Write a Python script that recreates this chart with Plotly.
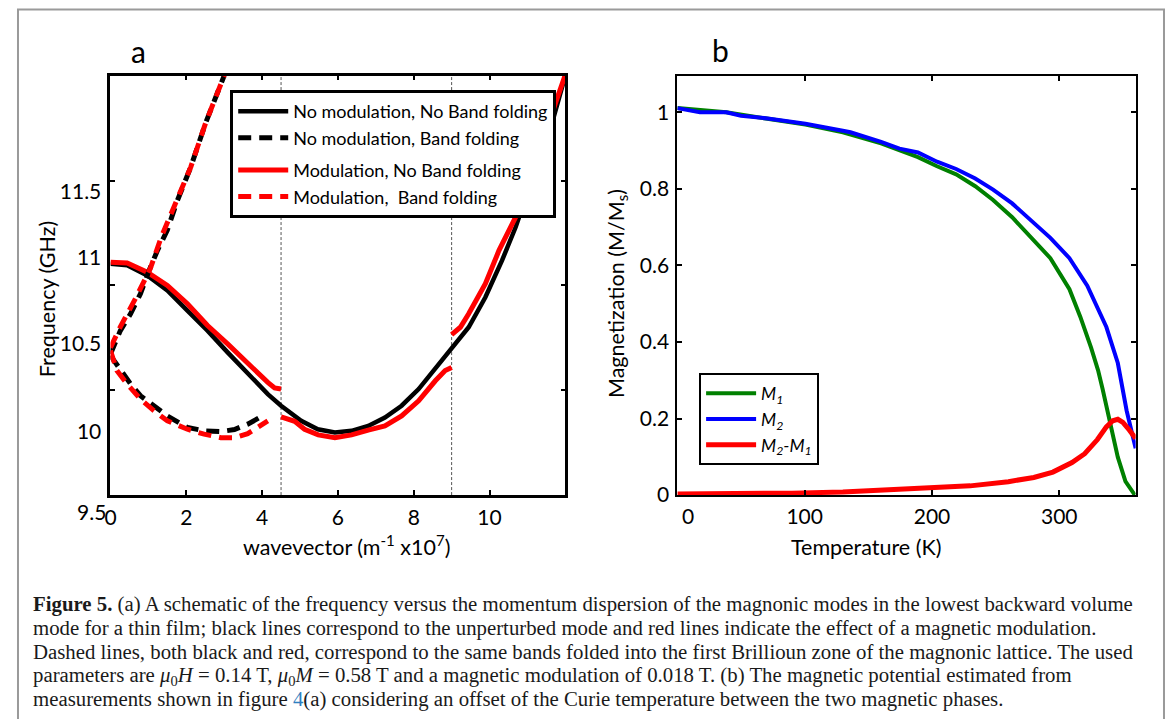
import plotly.graph_objects as go

# ---------------- Panel a: dispersion (wavevector in 1e7 m^-1, frequency in GHz) ----------------
k_nomod = [0, 0.44, 0.97, 1.50, 2.03, 2.56, 3.09, 3.62, 4.15, 4.50, 5.03, 5.47, 5.92, 6.36, 6.80,
           7.24, 7.68, 8.13, 8.57, 9.01, 9.45, 9.89, 10.33, 10.69, 11.3, 11.7, 12.0]
f_nomod = [10.958, 10.949, 10.891, 10.806, 10.691, 10.577, 10.453, 10.330, 10.215, 10.149, 10.063,
           10.015, 9.996, 10.006, 10.034, 10.082, 10.149, 10.244, 10.358, 10.474, 10.596, 10.767,
           10.977, 11.167, 11.55, 11.80, 12.03]

k_mod_1 = [0, 0.44, 0.97, 1.50, 2.03, 2.56, 3.09, 3.62, 4.15, 4.33, 4.50]
f_mod_1 = [10.967, 10.962, 10.910, 10.834, 10.730, 10.606, 10.501, 10.387, 10.282, 10.250, 10.244]
k_mod_2 = [4.50, 4.86, 5.12, 5.48, 5.92, 6.36, 6.80, 7.24, 7.68, 8.13, 8.57, 8.83, 9.0]
f_mod_2 = [10.086, 10.060, 10.015, 9.983, 9.967, 9.983, 10.010, 10.034, 10.091, 10.177, 10.291,
           10.349, 10.367]
k_mod_3 = [9.0, 9.23, 9.45, 9.89, 10.25, 10.51, 10.78, 11.3, 11.7, 11.92, 12.0]
f_mod_3 = [10.554, 10.596, 10.673, 10.844, 11.034, 11.149, 11.263, 11.60, 11.86, 11.987, 12.035]

k_nomod_fold_lo = [0, 0.26, 0.53, 0.79, 1.15, 1.50, 2.03, 2.47, 2.91, 3.27, 3.62, 4.06]
f_nomod_fold_lo = [10.434, 10.349, 10.273, 10.206, 10.149, 10.091, 10.025, 10.006, 10.002, 10.013,
                   10.044, 10.097]
k_nomod_fold_up = [0, 0.26, 0.53, 0.79, 1.02, 1.24, 1.50, 1.75, 2.12, 2.51, 3.0]
f_nomod_fold_up = [10.444, 10.577, 10.673, 10.787, 10.92, 11.034, 11.15, 11.31, 11.51, 11.76, 12.03]

k_mod_fold_lo = [0, 0.17, 0.44, 0.79, 1.15, 1.50, 2.03, 2.47, 2.91, 3.27, 3.62, 4.06, 4.15]
f_mod_fold_lo = [10.463, 10.349, 10.273, 10.187, 10.12, 10.063, 10.015, 9.987, 9.967, 9.967, 9.990,
                 10.044, 10.063]
k_mod_fold_up = [0, 0.27, 0.66, 1.05, 1.34, 1.73, 2.12, 2.51, 3.0]
f_mod_fold_up = [10.48, 10.603, 10.76, 10.93, 11.11, 11.31, 11.51, 11.76, 12.03]

zone_edges = [4.5, 9.0]
a_xticks = [0, 2, 4, 6, 8, 10]
a_ytick_marks = [10.237, 10.834, 11.431]
a_ylabel_pos = [10.0, 10.503, 10.994, 11.366]
a_ylabel_text = ["10", "10.5", "11", "11.5"]

# ---------------- Panel b: magnetization vs temperature ----------------
T_M2 = [0, 17.7, 38.4, 50, 71, 100.6, 130, 136, 160, 174.5, 189, 204, 219, 234, 248, 263, 278,
        293, 308, 322, 337, 346, 352.9, 360]
M2 = [1.011, 1.0, 1.0, 0.991, 0.984, 0.97, 0.952, 0.948, 0.923, 0.905, 0.895, 0.871, 0.852, 0.827,
      0.798, 0.762, 0.717, 0.672, 0.619, 0.547, 0.439, 0.345, 0.221, 0.122]
T_M1 = [0, 38.4, 100.6, 130, 160, 174.5, 189, 204, 219, 234, 248, 263, 278, 293, 308, 316.5, 325,
        330.5, 334, 339.7, 346, 352, 359.4]
M1 = [1.011, 1.0, 0.968, 0.948, 0.919, 0.901, 0.883, 0.859, 0.838, 0.807, 0.771, 0.726, 0.672,
      0.619, 0.538, 0.466, 0.385, 0.326, 0.278, 0.195, 0.099, 0.036, 0.0]
T_dM = [0, 50, 90, 130, 160, 200, 230, 260, 280, 295, 310, 320, 330, 337, 342, 346, 350, 355, 360]
dM = [0.003, 0.003, 0.005, 0.008, 0.012, 0.018, 0.024, 0.035, 0.046, 0.06, 0.085, 0.108, 0.145,
      0.178, 0.194, 0.198, 0.19, 0.17, 0.148]
b_xticks = [0, 100, 200, 300]
b_xticktext = ["\u00a0\u00a0\u00a0\u00a00", "100", "200", "300"]
b_yticks = [0, 0.2, 0.4, 0.6, 0.8, 1.0]
b_yticktext = ["0", "0.2", "0.4", "0.6", "0.8", "1"]

W, H = 1171, 719
# the captured page comes out uniformly squeezed and shifted; layout positions compensate for it
SQ = 0.9836
OX = 19.2
FONT = "Lato"
RED = "#ff0000"
DASH = "13px,8px"
TICK_SIZE = 21
TITLE_SIZE = 21.5

fig = go.Figure()

# Panel a traces
fig.add_trace(go.Scatter(x=k_nomod, y=f_nomod, mode="lines", line=dict(color="black", width=4.5),
                         name="No modulation, No Band folding", legendgroup="k"))
fig.add_trace(go.Scatter(x=k_mod_1, y=f_mod_1, mode="lines", line=dict(color=RED, width=5),
                         name="Modulation, No Band folding", legendgroup="r"))
fig.add_trace(go.Scatter(x=k_mod_2, y=f_mod_2, mode="lines", line=dict(color=RED, width=5),
                         showlegend=False, legendgroup="r"))
fig.add_trace(go.Scatter(x=k_mod_3, y=f_mod_3, mode="lines", line=dict(color=RED, width=5),
                         showlegend=False, legendgroup="r"))
fig.add_trace(go.Scatter(x=k_nomod_fold_lo, y=f_nomod_fold_lo, mode="lines",
                         line=dict(color="black", width=5, dash=DASH),
                         name="No modulation, Band folding", legendgroup="k"))
fig.add_trace(go.Scatter(x=k_nomod_fold_up, y=f_nomod_fold_up, mode="lines",
                         line=dict(color="black", width=5, dash=DASH),
                         showlegend=False, legendgroup="k"))
fig.add_trace(go.Scatter(x=k_mod_fold_lo, y=f_mod_fold_lo, mode="lines",
                         line=dict(color=RED, width=5, dash=DASH),
                         name="Modulation,\u00a0 Band folding", legendgroup="r"))
fig.add_trace(go.Scatter(x=k_mod_fold_up, y=f_mod_fold_up, mode="lines",
                         line=dict(color=RED, width=5, dash=DASH),
                         showlegend=False, legendgroup="r"))
# empty trace so the label axis of panel a is drawn
fig.add_trace(go.Scatter(x=[], y=[], xaxis="x", yaxis="y3", showlegend=False, hoverinfo="skip"))

# Panel b traces
fig.add_trace(go.Scatter(x=T_M1, y=M1, mode="lines", line=dict(color="#008000", width=4),
                         name="<i>M<sub>1</sub></i>", xaxis="x2", yaxis="y2", legend="legend2"))
fig.add_trace(go.Scatter(x=T_M2, y=M2, mode="lines", line=dict(color="#0000ff", width=4),
                         name="<i>M<sub>2</sub></i>", xaxis="x2", yaxis="y2", legend="legend2"))
fig.add_trace(go.Scatter(x=T_dM, y=dM, mode="lines", line=dict(color=RED, width=5),
                         name="<i>M<sub>2</sub>-M<sub>1</sub></i>", xaxis="x2", yaxis="y2",
                         legend="legend2"))

def px_x(p):
    return ((p - OX) / SQ) / W

def px_y(p):
    return 1 - (p / SQ) / H

ax_common = dict(showline=True, linecolor="black", mirror="ticks", showgrid=False, zeroline=False,
                 ticks="inside", tickcolor="black", tickwidth=2, ticklen=5,
                 tickfont=dict(family=FONT, size=TICK_SIZE, color="black"))

a_dom_x = [px_x(112.5), px_x(566.5)]
b_dom_x = [px_x(678.3), px_x(1135.7)]
dom_y = [px_y(494.5), px_y(75.5)]

fig.update_layout(
    width=W, height=H, margin=dict(l=0, r=0, t=0, b=0),
    paper_bgcolor="white", plot_bgcolor="white",
    font=dict(family=FONT, color="black"),
    xaxis=dict(domain=a_dom_x, range=[0, 12], tickvals=a_xticks, linewidth=2.5, anchor="y",
               ticklabelstandoff=2, **ax_common),
    yaxis=dict(domain=dom_y, range=[9.64, 12.03], tickvals=a_ytick_marks, showticklabels=False,
               linewidth=2.5, anchor="x", **ax_common),
    yaxis3=dict(overlaying="y", anchor="x", side="left", range=[9.64, 12.03],
                tickvals=a_ylabel_pos, ticktext=a_ylabel_text,
                ticks="outside", ticklen=4, tickcolor="rgba(0,0,0,0)",
                showline=False, showgrid=False, zeroline=False,
                tickfont=dict(family=FONT, size=TICK_SIZE, color="black")),
    xaxis2=dict(domain=b_dom_x, range=[0, 360], tickvals=b_xticks, ticktext=b_xticktext,
                linewidth=2, anchor="y2", ticklabelstandoff=2, **ax_common),
    yaxis2=dict(domain=dom_y, range=[0, 1.096], tickvals=b_yticks, ticktext=b_yticktext,
                linewidth=2, anchor="x2", ticklabelstandoff=2, **ax_common),
    legend=dict(x=px_x(232), y=px_y(90), xanchor="left", yanchor="top",
                bgcolor="white", bordercolor="black", borderwidth=3,
                font=dict(family=FONT, size=18, color="black"),
                traceorder="grouped", tracegroupgap=6, itemwidth=50),
    legend2=dict(x=px_x(700), y=px_y(373), xanchor="left", yanchor="top",
                 bgcolor="white", bordercolor="black", borderwidth=2,
                 font=dict(family=FONT, size=17.5, color="black"), itemwidth=50),
    showlegend=True,
)

# zone boundaries
for xe in zone_edges:
    fig.add_shape(type="line", xref="x", yref="y domain", x0=xe, x1=xe, y0=0, y1=1,
                  line=dict(color="#555555", width=1, dash="3px,2px"), layer="below")

# outer frame (its bottom edge lies below the visible page, as in the reference)
fig.add_shape(type="rect", xref="paper", yref="paper", x0=max(px_x(9), 1 / W),
              x1=min(px_x(1164), 1 - 1 / W), y0=-0.05, y1=px_y(9.5),
              line=dict(color="#9a9a9a", width=2))

def note(text, x, y, size, **kw):
    fig.add_annotation(text=text, x=px_x(x), y=px_y(y), xref="paper", yref="paper",
                       showarrow=False, font=dict(family=kw.pop("family", FONT), size=size,
                                                  color=kw.pop("color", "black")), **kw)

# axis titles (placed where the reference has them)
note("Frequency (GHz)", 48.5, 298.5, TITLE_SIZE, textangle=-90,
     xanchor="center", yanchor="middle")
note("wavevector (m<sup>-1</sup> x10<sup>7</sup>)", 348, 545, TITLE_SIZE,
     xanchor="center", yanchor="middle")
note("Magnetization (M/M<sub>s</sub>)", 618, 292.7, TITLE_SIZE, textangle=-90,
     xanchor="center", yanchor="middle")
note("Temperature (K)", 867, 546, TITLE_SIZE, xanchor="center", yanchor="middle")

# panel letters and the corner tick label
note("a", 140, 51, 30, xanchor="center", yanchor="middle")
note("b", 721.5, 50, 30, xanchor="center", yanchor="middle")
note("9.5", 110, 511, TICK_SIZE, xanchor="right", yanchor="middle")

# caption
caption_lines = [
    "<b>Figure 5.</b> (a) A schematic of the frequency versus the momentum dispersion of the magnonic modes in the lowest backward volume",
    "mode for a thin film; black lines correspond to the unperturbed mode and red lines indicate the effect of a magnetic modulation.",
    "Dashed lines, both black and red, correspond to the same bands folded into the first Brillioun zone of the magnonic lattice. The used",
    "parameters are <i>μ</i><sub>0</sub><i>H</i> = 0.14 T, <i>μ</i><sub>0</sub><i>M</i> = 0.58 T and a magnetic modulation of 0.018 T. (b) The magnetic potential estimated from",
    "measurements shown in figure <span style='color:#2f7fc0'>4</span>(a) considering an offset of the Curie temperature between the two magnetic phases.",
]
caption_y = [603, 627, 651, 675, 698]
for line, yy in zip(caption_lines, caption_y):
    note(line, 33, yy, 20.8, family="Liberation Serif", color="#1a1a1a",
         xanchor="left", yanchor="middle", align="left")

fig.write_html(
    "out.html",
    config={"displayModeBar": False},
    post_script=(
        "document.documentElement.style.margin='0px';"
        "document.body.style.margin='0px';"
        "document.documentElement.style.overflow='hidden';"
        "document.body.style.overflow='hidden';"
        "var gd=document.querySelector('.plotly-graph-div');"
        "gd.style.position='fixed';gd.style.left='0px';gd.style.top='0px';"
    ),
)
